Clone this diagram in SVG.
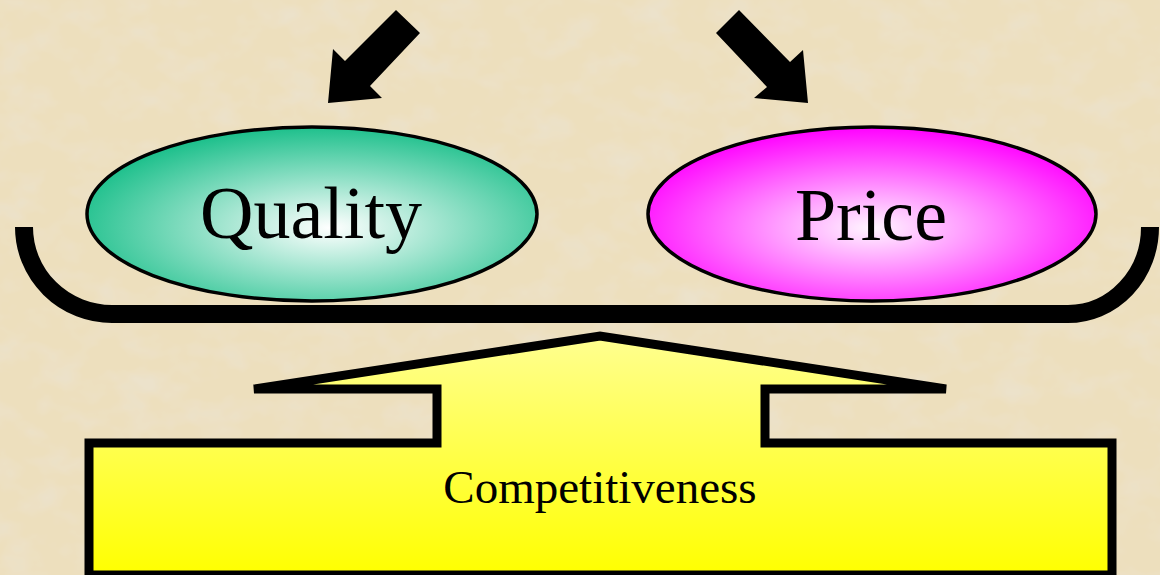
<svg xmlns="http://www.w3.org/2000/svg" width="1160" height="575" viewBox="0 0 1160 575">
  <defs>
    <filter id="parch" x="0" y="0" width="100%" height="100%">
      <feTurbulence type="fractalNoise" baseFrequency="0.025 0.035" numOctaves="3" seed="7" result="n"/>
      <feColorMatrix in="n" type="matrix" values="0 0 0 0 0.84  0 0 0 0 0.76  0 0 0 0 0.60  2.2 0 0 0 -0.95"/>
    </filter>
    <radialGradient id="gQuality" cx="0.54" cy="0.58" r="0.58">
      <stop offset="0" stop-color="#ffffff"/>
      <stop offset="1" stop-color="#1ec08c"/>
    </radialGradient>
    <radialGradient id="gPrice" cx="0.5" cy="0.58" r="0.58">
      <stop offset="0" stop-color="#fff6ff"/>
      <stop offset="1" stop-color="#ff00ff"/>
    </radialGradient>
    <linearGradient id="gYellow" x1="0" y1="0" x2="0" y2="1">
      <stop offset="0" stop-color="#ffff90"/>
      <stop offset="1" stop-color="#ffff00"/>
    </linearGradient>
    <style>
      .lbl { font-family: "Liberation Serif", "Times New Roman", serif; fill: #000; text-anchor: middle; }
      .oval { stroke: #000; stroke-width: 3.5; }
    </style>
  </defs>

  <rect width="1160" height="575" fill="#eddfbd"/>
  <rect width="1160" height="575" filter="url(#parch)"/>

  <g id="connectors">
    <polygon id="arrow-left" points="328,103 333,49 345,61 396,10 420,33 370,86 382,98" fill="#000"/>
    <polygon id="arrow-right" points="808,103 754,98 767,87 716,33 739,10 790,62 803,50" fill="#000"/>
  </g>

  <g id="beam">
    <path d="M24,227 A88,87 0 0 0 112,314 L1068,314 A82,87 0 0 0 1150,227" fill="none" stroke="#000" stroke-width="18"/>
  </g>

  <g id="quality">
    <ellipse class="oval" cx="312" cy="214" rx="225" ry="87" fill="url(#gQuality)"/>
    <text class="lbl" x="311" y="238" font-size="74">Quality</text>
  </g>

  <g id="price">
    <ellipse class="oval" cx="872" cy="214" rx="224" ry="87" fill="url(#gPrice)"/>
    <text class="lbl" x="871" y="240" font-size="74">Price</text>
  </g>

  <g id="competitiveness">
    <polygon points="254,389 600,336 946,389 765,389 765,443 1112,443 1112,575 89,575 89,443 437,443 437,389" fill="url(#gYellow)" stroke="#000" stroke-width="9"/>
    <text class="lbl" x="600" y="503" font-size="47">Competitiveness</text>
  </g>
</svg>
